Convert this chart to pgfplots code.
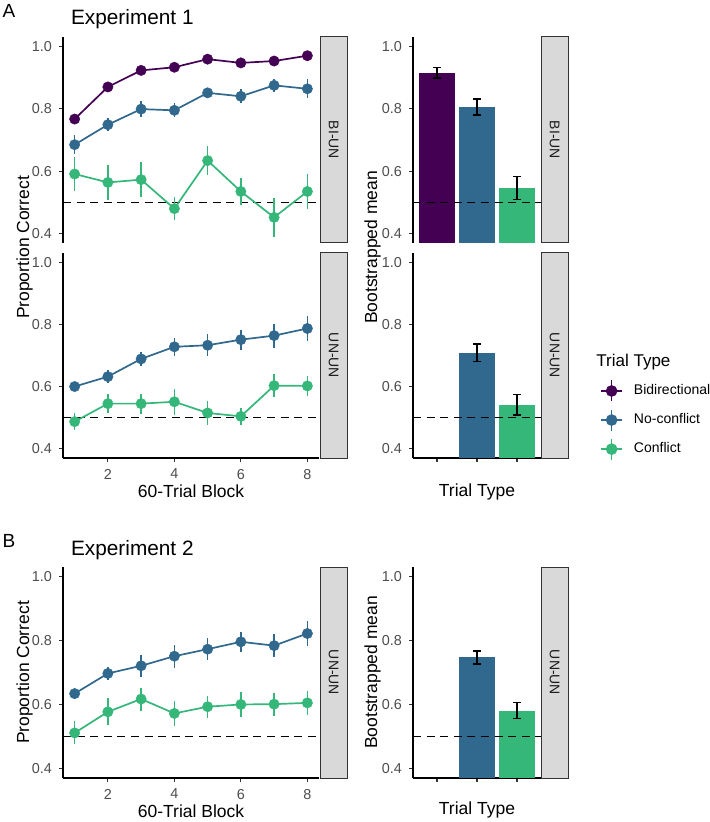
\documentclass[border=0pt]{standalone}
\usepackage{pgfplots}
\pgfplotsset{compat=1.18}
\usepackage{fontspec}
\setmainfont{Liberation Sans}

\definecolor{bidir}{HTML}{440154}
\definecolor{nocon}{HTML}{31688E}
\definecolor{confl}{HTML}{35B779}
\definecolor{stripfill}{HTML}{D9D9D9}
\definecolor{stripline}{HTML}{333333}
\definecolor{ticklab}{HTML}{4D4D4D}
\definecolor{tickcol}{HTML}{333333}
\definecolor{striptext}{HTML}{1A1A1A}

\pgfplotsset{
  facet/.style={
    scale only axis, anchor=north west, clip=true,
    ymin=0.37, ymax=1.03,
    ytick={0.4,0.6,0.8,1.0}, yticklabels={0.4,0.6,0.8,1.0},
    axis y line*=left,
    axis line style={line width=0.55pt, black, -},
    tick style={line width=0.55pt, color=tickcol},
    tick align=outside, major tick length=2pt,
    ticklabel style={font=\fontsize{7.2}{8}\selectfont, text=ticklab},
    /pgf/number format/assume math mode=true,
  },
  linepanel/.style={facet, width=128pt, xmin=0.65, xmax=8.35, xtick={2,4,6,8}},
  barpanel/.style={facet, width=64pt, xmin=0.4, xmax=3.6, xtick={1,2,3}, xticklabels={}},
  topfacet/.style={axis x line=none},
  botfacet/.style={axis x line*=bottom},
  refline/.style={black, line width=0.8pt, dash pattern=on 4pt off 2.8pt},
  ser/.style={color=#1, line width=0.85pt, mark=*, mark size=2.6pt,
    mark options={solid, fill=#1, draw=#1, line width=0.2pt},
    error bars/y dir=both, error bars/y explicit, error bars/error mark=none,
    error bars/error bar style={line width=0.85pt, color=#1}},
  barser/.style={ybar, bar width=0.9, bar shift=0pt, fill=#1, draw=none,
    error bars/y dir=both, error bars/y explicit,
    error bars/error bar style={line width=0.75pt, black, solid},
    error bars/error mark options={rotate=90, black, line width=0.75pt, mark size=2pt}},
  lkey/.style={legend image code/.code={
    \draw[#1, line width=0.85pt] (0pt,0pt) -- (10.5pt,0pt);
    \draw[#1, line width=0.85pt] (5.25pt,-5.25pt) -- (5.25pt,5.25pt);
    \fill[#1] (5.25pt,0pt) circle (2.7pt);}},
}

\newcommand\facetstrip[5]{%
  \draw[stripline, fill=stripfill, line width=0.5pt] (#1,#2) rectangle (#3,#4);
  \node[rotate=-90, text=striptext, font=\fontsize{7}{8}\selectfont] at ({(#1+#3)/2},{(#2+#4)/2}) {#5};}

\begin{document}
\begin{tikzpicture}
\path[use as bounding box] (0pt,0pt) rectangle (354.5pt,-411pt);

% ---------------- Experiment 1: learning curves ----------------
\begin{axis}[linepanel, topfacet, at={(31.5pt,-18.5pt)}, height=103pt]
\addplot[refline] coordinates {(0.65,0.5) (8.35,0.5)};
\addplot[ser=bidir] coordinates {
 (1,0.767) +- (0,0.016) (2,0.870) +- (0,0.010) (3,0.923) +- (0,0.010) (4,0.933) +- (0,0.010)
 (5,0.959) +- (0,0.008) (6,0.947) +- (0,0.010) (7,0.953) +- (0,0.010) (8,0.970) +- (0,0.008)};
\addplot[ser=nocon] coordinates {
 (1,0.685) +- (0,0.030) (2,0.749) +- (0,0.021) (3,0.799) +- (0,0.025) (4,0.795) +- (0,0.022)
 (5,0.851) +- (0,0.016) (6,0.840) +- (0,0.023) (7,0.875) +- (0,0.021) (8,0.864) +- (0,0.030)};
\addplot[ser=confl] coordinates {
 (1,0.591) +- (0,0.054) (2,0.564) +- (0,0.056) (3,0.573) +- (0,0.055) (4,0.480) +- (0,0.036)
 (5,0.634) +- (0,0.047) (6,0.535) +- (0,0.044) (7,0.452) +- (0,0.063) (8,0.535) +- (0,0.056)};
\end{axis}

\begin{axis}[linepanel, botfacet, at={(31.5pt,-126.5pt)}, height=102.5pt]
\addplot[refline] coordinates {(0.65,0.5) (8.35,0.5)};
\addplot[ser=nocon] coordinates {
 (1,0.600) +- (0,0.008) (2,0.632) +- (0,0.021) (3,0.689) +- (0,0.023) (4,0.728) +- (0,0.029)
 (5,0.733) +- (0,0.035) (6,0.751) +- (0,0.032) (7,0.764) +- (0,0.039) (8,0.787) +- (0,0.040)};
\addplot[ser=confl] coordinates {
 (1,0.487) +- (0,0.028) (2,0.545) +- (0,0.030) (3,0.545) +- (0,0.032) (4,0.551) +- (0,0.042)
 (5,0.515) +- (0,0.040) (6,0.504) +- (0,0.027) (7,0.603) +- (0,0.036) (8,0.602) +- (0,0.033)};
\end{axis}

% ---------------- Experiment 1: bootstrapped means ----------------
\begin{axis}[barpanel, topfacet, at={(206.5pt,-18.5pt)}, height=103pt]
\addplot[barser=bidir] coordinates {(1,0.915) +- (0,0.017)};
\addplot[barser=nocon] coordinates {(2,0.806) +- (0,0.026)};
\addplot[barser=confl] coordinates {(3,0.546) +- (0,0.037)};
\addplot[refline] coordinates {(0.4,0.5) (3.6,0.5)};
\end{axis}

\begin{axis}[barpanel, botfacet, at={(206.5pt,-126.5pt)}, height=102.5pt,
  legend style={at={(axis description cs:1.46,0.185)}, anchor=west, draw=none, fill=none,
    inner sep=0pt, font=\fontsize{7}{8}\selectfont, row sep=3.2pt, column sep=5pt,
    nodes={inner sep=0.5pt}},
  legend cell align=left]
\addplot[forget plot, barser=nocon] coordinates {(2,0.709) +- (0,0.028)};
\addplot[forget plot, barser=confl] coordinates {(3,0.541) +- (0,0.033)};
\addplot[forget plot, refline] coordinates {(0.4,0.5) (3.6,0.5)};
\addlegendimage{lkey=bidir}
\addlegendentry{Bidirectional}
\addlegendimage{lkey=nocon}
\addlegendentry{No-conflict}
\addlegendimage{lkey=confl}
\addlegendentry{Conflict}
\end{axis}

% ---------------- Experiment 2 ----------------
\begin{axis}[linepanel, botfacet, at={(31.5pt,-283.5pt)}, height=105.5pt]
\addplot[refline] coordinates {(0.65,0.5) (8.35,0.5)};
\addplot[ser=nocon] coordinates {
 (1,0.634) +- (0,0.016) (2,0.697) +- (0,0.021) (3,0.721) +- (0,0.034) (4,0.751) +- (0,0.036)
 (5,0.773) +- (0,0.034) (6,0.796) +- (0,0.031) (7,0.784) +- (0,0.035) (8,0.822) +- (0,0.039)};
\addplot[ser=confl] coordinates {
 (1,0.511) +- (0,0.036) (2,0.577) +- (0,0.042) (3,0.617) +- (0,0.036) (4,0.572) +- (0,0.040)
 (5,0.593) +- (0,0.034) (6,0.600) +- (0,0.040) (7,0.601) +- (0,0.036) (8,0.605) +- (0,0.037)};
\end{axis}

\begin{axis}[barpanel, botfacet, at={(206.5pt,-283.5pt)}, height=105.5pt]
\addplot[barser=nocon] coordinates {(2,0.747) +- (0,0.020)};
\addplot[barser=confl] coordinates {(3,0.581) +- (0,0.025)};
\addplot[refline] coordinates {(0.4,0.5) (3.6,0.5)};
\end{axis}

% ---------------- strips, titles and labels ----------------
\begin{scope}[x=0.5pt, y=-0.5pt]
\facetstrip{320}{37}{347}{243}{BI-UN}
\facetstrip{320}{253}{347}{458}{UN-UN}
\facetstrip{541}{37}{568}{243}{BI-UN}
\facetstrip{541}{253}{568}{458}{UN-UN}
\facetstrip{320}{567}{347}{778}{UN-UN}
\facetstrip{541}{567}{568}{778}{UN-UN}

\node[font=\fontsize{9.5}{11}\selectfont] at (9,11) {A};
\node[font=\fontsize{9.5}{11}\selectfont] at (9,541) {B};
\node[anchor=base west, font=\fontsize{10.4}{12}\selectfont] at (64,25) {Experiment 1};
\node[anchor=base west, font=\fontsize{10.4}{12}\selectfont] at (64,555) {Experiment 2};

\node[rotate=90, font=\fontsize{8.75}{10}\selectfont] at (24.5,247.5) {Proportion Correct};
\node[rotate=90, font=\fontsize{8.75}{10}\selectfont] at (24.5,672.5) {Proportion Correct};
\node[rotate=90, font=\fontsize{8.75}{10}\selectfont] at (372.5,247.5) {Bootstrapped mean};
\node[rotate=90, font=\fontsize{8.75}{10}\selectfont] at (372.5,672.5) {Bootstrapped mean};
\node[font=\fontsize{8.75}{10}\selectfont] at (191,491.5) {60-Trial Block};
\node[font=\fontsize{8.75}{10}\selectfont] at (191,811.5) {60-Trial Block};
\node[font=\fontsize{8.75}{10}\selectfont] at (477,491.5) {Trial Type};
\node[font=\fontsize{8.75}{10}\selectfont] at (477,810) {Trial Type};

\node[anchor=west, font=\fontsize{8.5}{10}\selectfont, inner sep=0pt] at (596,362) {Trial Type};
\end{scope}
\end{tikzpicture}
\end{document}
